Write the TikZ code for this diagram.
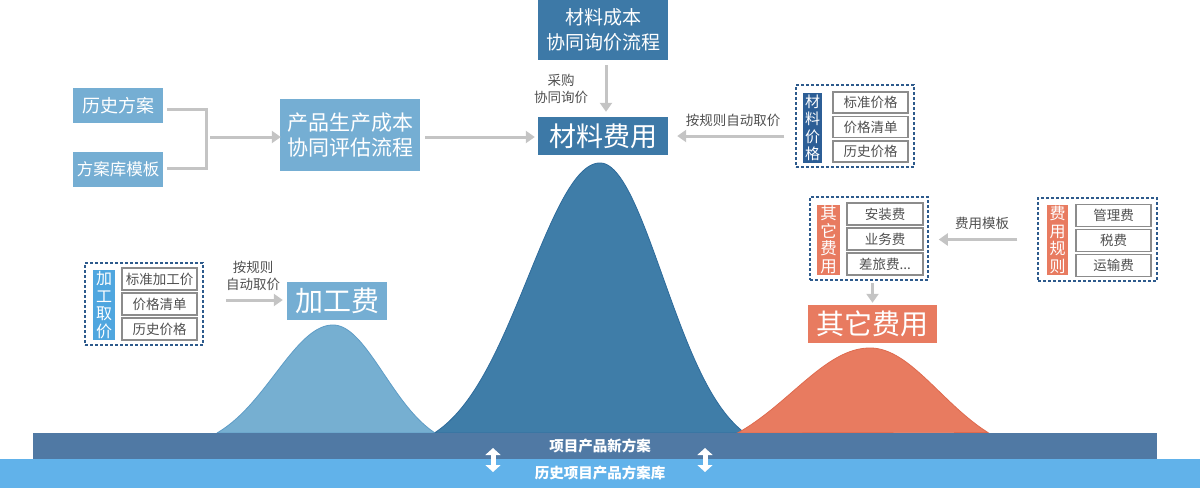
\documentclass[tikz,border=0pt]{standalone}
\usepackage{fontspec}
\setmainfont{Noto Sans CJK SC}
\usetikzlibrary{arrows.meta}
\definecolor{lb}{HTML}{75AED3}
\definecolor{db}{HTML}{3D79A7}
\definecolor{bellL}{HTML}{76AFD1}
\definecolor{bellLd}{HTML}{5E9CC6}
\definecolor{bellD}{HTML}{3F7DA8}
\definecolor{bellDd}{HTML}{2E6B9B}
\definecolor{orng}{HTML}{E87B60}
\definecolor{orngd}{HTML}{DE6A4E}
\definecolor{barD}{HTML}{5079A4}
\definecolor{barL}{HTML}{61B2EA}
\definecolor{navy}{HTML}{2C5E96}
\definecolor{sky}{HTML}{4FA6DF}
\definecolor{dashc}{HTML}{2D5A8C}
\definecolor{itemc}{HTML}{8C8C8C}
\definecolor{txt}{HTML}{505050}
\definecolor{ag}{HTML}{C4C4C4}
\newcommand\myfs[2]{\fontsize{#1}{#2}\selectfont}
\tikzset{
  solidbox/.style={fill=#1, text=white, inner sep=0pt, align=center},
  item/.style={draw=itemc, line width=1.2pt, fill=white, minimum width=75pt, minimum height=21pt, inner sep=0pt, text=txt, font=\myfs{13.5}{16}},
  vlabel/.style={fill=#1, text=white, inner sep=0pt, align=center, font=\myfs{15}{17.5}},
  grp/.style={draw=dashc, dash pattern=on 3pt off 2pt, line width=1.5pt, inner sep=0pt},
  arr/.style={draw=ag, line width=3pt, -{Triangle[length=9pt,width=12pt]}},
  gline/.style={draw=ag, line width=3pt},
  lbl/.style={text=txt, font=\myfs{13.5}{17}, align=center, inner sep=0pt},
  dbl/.style={draw=white, line width=5pt, {Triangle[length=7pt,width=15pt]}-{Triangle[length=7pt,width=15pt]}},
  bartext/.style={text=white, font=\bfseries\myfs{14.5}{17}, inner sep=0pt}
}
\begin{document}
\begin{tikzpicture}[x=1pt,y=-1pt]
\useasboundingbox (0,0) rectangle (1200,488);

% bells
\filldraw[fill=bellL, draw=bellLd, line width=0.8pt]
  (217,433) -- plot[domain=217:333, samples=60, smooth] (\x,{433-108*(exp(-0.5*((\x-333)/58)^2)-0.135)/(0.865)})
  -- plot[domain=333:435, samples=60, smooth] (\x,{433-108*(exp(-0.5*((\x-333)/51)^2)-0.135)/(0.865)}) -- cycle;
\filldraw[fill=bellD, draw=bellDd, line width=0.8pt]
  (435,433) -- plot[domain=435:600, samples=80, smooth] (\x,{433-270*(exp(-0.5*((\x-600)/72)^2)-0.071)/(0.929)})
  -- plot[domain=600:745, samples=80, smooth] (\x,{433-270*(exp(-0.5*((\x-600)/63)^2)-0.071)/(0.929)}) -- cycle;
\filldraw[fill=orng, draw=orngd, line width=0.8pt]
  (737,433) -- plot[domain=737:870, samples=60, smooth] (\x,{433-85*(exp(-0.5*((\x-870)/77)^2)-0.228)/(0.772)})
  -- plot[domain=870:988, samples=60, smooth] (\x,{433-85*(exp(-0.5*((\x-870)/69)^2)-0.228)/(0.772)}) -- cycle;

% bars
\fill[barD] (33,433) rectangle (1157,459);
\fill[barL] (0,459) rectangle (1200,488);
\node[bartext] (bt1) at (600,446) {项目产品新方案};
\node[bartext] (bt2) at (600,473) {历史项目产品方案库};
\coordinate (d1a) at (493,448); \coordinate (d1b) at (493,472);
\coordinate (d2a) at (705,448); \coordinate (d2b) at (705,472);
\draw[dbl] (d1a) -- (d1b);
\draw[dbl] (d2a) -- (d2b);

% top-left
\node[solidbox=lb, minimum width=90pt, minimum height=35pt, font=\myfs{18}{20}] (h1) at (118,105.5) {历史方案};
\node[solidbox=lb, minimum width=90pt, minimum height=35pt, font=\myfs{16.5}{20}] (h2) at (118,169.5) {方案库模板};
\node[solidbox=lb, minimum width=140pt, minimum height=72pt, font=\myfs{21}{25}] (p) at (350,135) {产品生产成本\\协同评估流程};
\coordinate (bj) at (206,137);
\draw[gline] ([xshift=4pt,yshift=-3.5pt]h1.east) -| (bj) |- ([xshift=4pt,yshift=1.5pt]h2.east);
\draw[arr, shorten >=3pt] ([xshift=4pt]bj) -- ([xshift=4pt]bj -| p.west);

% material
\node[solidbox=db, minimum width=130pt, minimum height=60pt, font=\myfs{19}{25}] (m1) at (603,30) {材料成本\\协同询价流程};
\node[solidbox=db, minimum width=130pt, minimum height=38pt, font=\myfs{27}{30}] (m2) at (603,136) {材料费用};
\draw[arr] ([xshift=3pt,yshift=-5pt]m1.south) -- ([xshift=3pt,yshift=5pt]m2.north);
\node[lbl] (l1) at (561,88.5) {采购\\协同询价};
\coordinate (pa) at ([xshift=5pt,yshift=-2pt]p.east);
\draw[arr, shorten >=3pt] (pa) -- (pa -| m2.west);

% material price group
\node[grp, minimum width=118pt, minimum height=82pt] (g1) at (855,126) {};
\node[vlabel=navy, minimum width=19pt, minimum height=70pt] (v1) at (812.5,128) {材\\料\\价\\格};
\node[item] (i11) at (870.5,102.5) {标准价格};
\node[item] (i12) at (870.5,127) {价格清单};
\node[item] (i13) at (870.5,151.5) {历史价格};
\coordinate (ra) at ([xshift=-11pt]g1.west |- m2.east);
\draw[arr] (ra) -- ([xshift=9pt]m2.east);
\node[lbl] (l2) at (733,120) {按规则自动取价};

% other fee groups
\node[grp, minimum width=118pt, minimum height=83pt] (g2) at (869,238.5) {};
\node[vlabel=orng, minimum width=23pt, minimum height=70pt, font=\myfs{16.5}{17.5}] (v2) at (828.5,240) {其\\它\\费\\用};
\node[item, minimum width=76pt, minimum height=22pt] (i21) at (885,214) {安装费};
\node[item, minimum width=76pt, minimum height=22pt] (i22) at (885,239) {业务费};
\node[item, minimum width=76pt, minimum height=22pt] (i23) at (885,264) {差旅费...};

\node[grp, minimum width=119pt, minimum height=83pt] (g3) at (1097.5,239.5) {};
\node[vlabel=orng, minimum width=21pt, minimum height=70pt, font=\myfs{16}{17.5}] (v3) at (1057.5,240) {费\\用\\规\\则};
\node[item, minimum height=22pt] (i31) at (1113.5,215.5) {管理费};
\node[item, minimum height=22pt] (i32) at (1113.5,240.5) {税费};
\node[item, minimum height=22pt] (i33) at (1113.5,265.5) {运输费};
\coordinate (fa) at ([xshift=-20pt]g3.west);
\draw[arr] (fa) -- ([xshift=10pt]g2.east |- fa);
\node[lbl] (l3) at (982,223) {费用模板};

\node[solidbox=orng, minimum width=129pt, minimum height=38pt, font=\myfs{28}{30}] (o) at (872.5,324) {其它费用};
\draw[arr] ([yshift=-2pt]o.north |- g2.south) -- ([yshift=2pt]o.north);

% processing group
\node[grp, minimum width=118pt, minimum height=82pt] (g4) at (144,304) {};
\node[vlabel=sky, minimum width=22pt, minimum height=70pt, font=\myfs{16}{17.5}] (v4) at (104,305) {加\\工\\取\\价};
\node[item, minimum height=22pt] (i41) at (159.5,279) {标准加工价};
\node[item, minimum height=22pt] (i42) at (159.5,304) {价格清单};
\node[item, minimum height=22pt] (i43) at (159.5,329) {历史价格};
\node[solidbox=lb, minimum width=100pt, minimum height=38pt, font=\myfs{28}{30}] (jg) at (337,301) {加工费};
\coordinate (ja) at ([xshift=22pt,yshift=4pt]g4.east);
\draw[arr, shorten >=4pt] (ja) -- (ja -| jg.west);
\node[lbl] (l4) at (253,275.5) {按规则\\自动取价};
\end{tikzpicture}
\end{document}
